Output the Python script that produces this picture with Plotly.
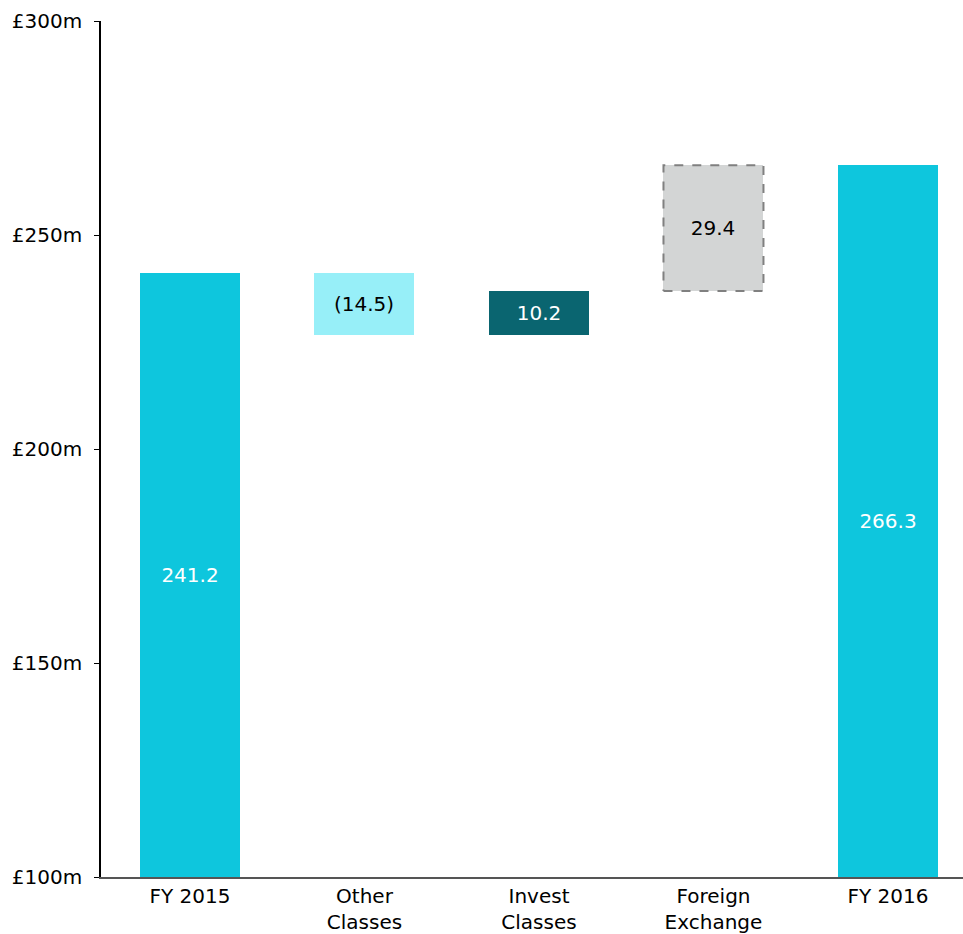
import plotly.graph_objects as go

categories = ["FY 2015", "Other<br>Classes", "Invest<br>Classes", "Foreign<br>Exchange", "FY 2016"]
changes = [241.2, -14.5, 10.2, 29.4, 266.3]
labels = ["241.2", "(14.5)", "10.2", "29.4", "266.3"]
is_total = [True, False, False, False, True]
colors = ["#0EC6DD", "#97EFF8", "#0A6570", "#D3D5D5", "#0EC6DD"]
text_colors = ["white", "black", "white", "black", "white"]
y_ticks = [100, 150, 200, 250, 300]
y_tick_labels = ["£100m", "£150m", "£200m", "£250m", "£300m"]
y_min, y_max = 100, 300

BAR_W = 0.573
FONT = "DejaVu Sans"

# compute bases / heights from data (totals drawn from the axis floor)
bases, heights = [], []
running = 0.0
for c, tot in zip(changes, is_total):
    if tot:
        bases.append(y_min)
        heights.append(c - y_min)
        running = c
    else:
        if c >= 0:
            bases.append(running)
            heights.append(c)
        else:
            bases.append(running + c)
            heights.append(-c)
        running += c

xs = list(range(len(categories)))

fig = go.Figure()
fig.add_trace(go.Bar(
    x=xs, y=heights, base=bases, width=BAR_W,
    marker=dict(color=colors, line=dict(width=0)),
    text=labels, textposition="inside", insidetextanchor="middle",
    textangle=0, constraintext="none",
    insidetextfont=dict(family=FONT, size=20, color=text_colors),
    showlegend=False, hoverinfo="skip",
))

# dashed border for the foreign exchange bar
i = 3
x0, x1 = i - BAR_W / 2, i + BAR_W / 2
y0, y1 = bases[i], bases[i] + heights[i]
fig.add_trace(go.Scatter(
    x=[x0, x1, x1, x0, x0], y=[y0, y0, y1, y1, y0], mode="lines",
    line=dict(color="#808080", width=2, dash="dash"),
    showlegend=False, hoverinfo="skip", cliponaxis=False,
))

fig.update_layout(
    width=963, height=934,
    margin=dict(l=101, r=0, t=21, b=57),
    paper_bgcolor="white", plot_bgcolor="white",
    font=dict(family=FONT, size=20, color="black"),
    bargap=0,
)
fig.update_xaxes(
    range=[-0.51, 4.43], tickmode="array", tickvals=xs, ticktext=categories,
    showline=True, linecolor="#555555", linewidth=2, ticks="", showgrid=False,
    zeroline=False, automargin=False,
    tickfont=dict(family=FONT, size=20, color="black"),
)
fig.update_yaxes(
    range=[y_min, y_max], tickmode="array", tickvals=y_ticks, ticktext=y_tick_labels,
    showline=True, linecolor="black", linewidth=1.5, ticks="outside", ticklen=5,
    tickcolor="black", showgrid=False, zeroline=False, automargin=False,
    ticklabelstandoff=8,
    tickfont=dict(family=FONT, size=20, color="black"),
)

fig.write_html(
    "out.html",
    config={"displayModeBar": False},
    post_script="document.body.style.margin='0';document.body.style.overflow='hidden';",
)
